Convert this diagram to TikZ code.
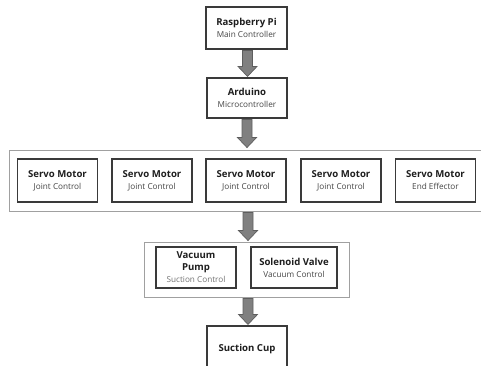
\documentclass[tikz,border=0pt]{standalone}
\usepackage{fontspec}
\setmainfont{Open Sans}
\usetikzlibrary{calc}
\definecolor{boxedge}{HTML}{3A3A3A}
\definecolor{grpedge}{HTML}{A0A0A0}
\definecolor{arrowfill}{HTML}{808080}
\definecolor{arrowedge}{HTML}{5E5E5E}
\definecolor{titlecol}{HTML}{1E1E1E}
\definecolor{subcol}{HTML}{454545}
\newcommand{\ttl}[1]{{\fontsize{9.6}{12}\selectfont\bfseries\color{titlecol}#1}}
\newcommand{\sub}[1]{{\fontsize{8.2}{12}\selectfont\color{subcol}#1}}
\tikzset{
  unit/.style={draw=boxedge, line width=1.1pt, fill=white, align=center, inner sep=0pt,
    minimum width=80pt, minimum height=42pt, font=\fontsize{9.6}{12}\selectfont},
  group/.style={draw=grpedge, line width=0.9pt, fill=white, inner sep=0pt},
  fatarrow/.style={fill=arrowfill, draw=arrowedge, line width=0.7pt,
    to path={let \p1=(\tikztostart), \p2=(\tikztotarget) in
      (\x1-5pt,\y1) -- (\x1+5pt,\y1) -- (\x1+5pt,\y2+10pt) -- (\x1+9.5pt,\y2+10pt)
      -- (\x1,\y2) -- (\x1-9.5pt,\y2+10pt) -- (\x1-5pt,\y2+10pt) -- cycle}}
}
\begin{document}
\begin{tikzpicture}[x=1pt,y=-1pt]
\clip (0,0) rectangle (481,365);
\useasboundingbox (0,0) rectangle (481,365);
% top
\node[unit, minimum width=81pt] (rpi) at (246.5,28) {\ttl{Raspberry Pi}\\\sub{Main Controller}};
\node[unit, minimum height=40pt] (ard) at (247,98) {\ttl{Arduino}\\\sub{Microcontroller}};
% servo group
\node[group, minimum width=486pt, minimum height=61pt] (grp1) at (252,180.5) {};
\node[unit, minimum height=43pt] (s1) at (57.5,180.5) {\ttl{Servo Motor}\\\sub{Joint Control}};
\node[unit, minimum height=43pt] (s2) at (152,180.5) {\ttl{Servo Motor}\\\sub{Joint Control}};
\node[unit, minimum height=43pt] (s3) at (246,180.5) {\ttl{Servo Motor}\\\sub{Joint Control}};
\node[unit, minimum height=43pt] (s4) at (341,180.5) {\ttl{Servo Motor}\\\sub{Joint Control}};
\node[unit, minimum height=43pt] (s5) at (435.5,180.5) {\ttl{Servo Motor}\\\sub{End Effector}};
% vacuum group
\node[group, minimum width=205pt, minimum height=55pt] (grp2) at (246.5,269.5) {};
\node[unit, minimum height=41pt] (vp) at (196,267.5) {\ttl{Vacuum}\\\ttl{Pump}\\{\fontsize{8.2}{12}\selectfont\color{subcol!75}Suction Control}};
\node[unit, minimum width=86pt, minimum height=41pt] (sv) at (294,267.5) {\ttl{Solenoid Valve}\\\sub{Vacuum Control}};
% bottom
\node[unit, minimum height=46pt] (cup) at (247,349) {\ttl{Suction Cup}};
% arrows
\coordinate (a1s) at ($(rpi.south)+(1,1)$);
\coordinate (a1e) at ($(ard.north)+(0,-1)$);
\draw[fatarrow] (a1s) to (a1e);
\coordinate (a2s) at ($(ard.south)+(0,1)$);
\coordinate (a2e) at ($(ard.south |- grp1.north)+(0,-2)$);
\draw[fatarrow] (a2s) to (a2e);
\coordinate (a3s) at ($(ard.south |- grp1.south)+(1,1)$);
\coordinate (a3e) at ($(ard.south |- grp2.north)+(1,-1)$);
\draw[fatarrow] (a3s) to (a3e);
\coordinate (a4s) at ($(ard.south |- grp2.south)+(1,1)$);
\coordinate (a4e) at ($(cup.north)+(1,-1)$);
\draw[fatarrow] (a4s) to (a4e);
\end{tikzpicture}
\end{document}
